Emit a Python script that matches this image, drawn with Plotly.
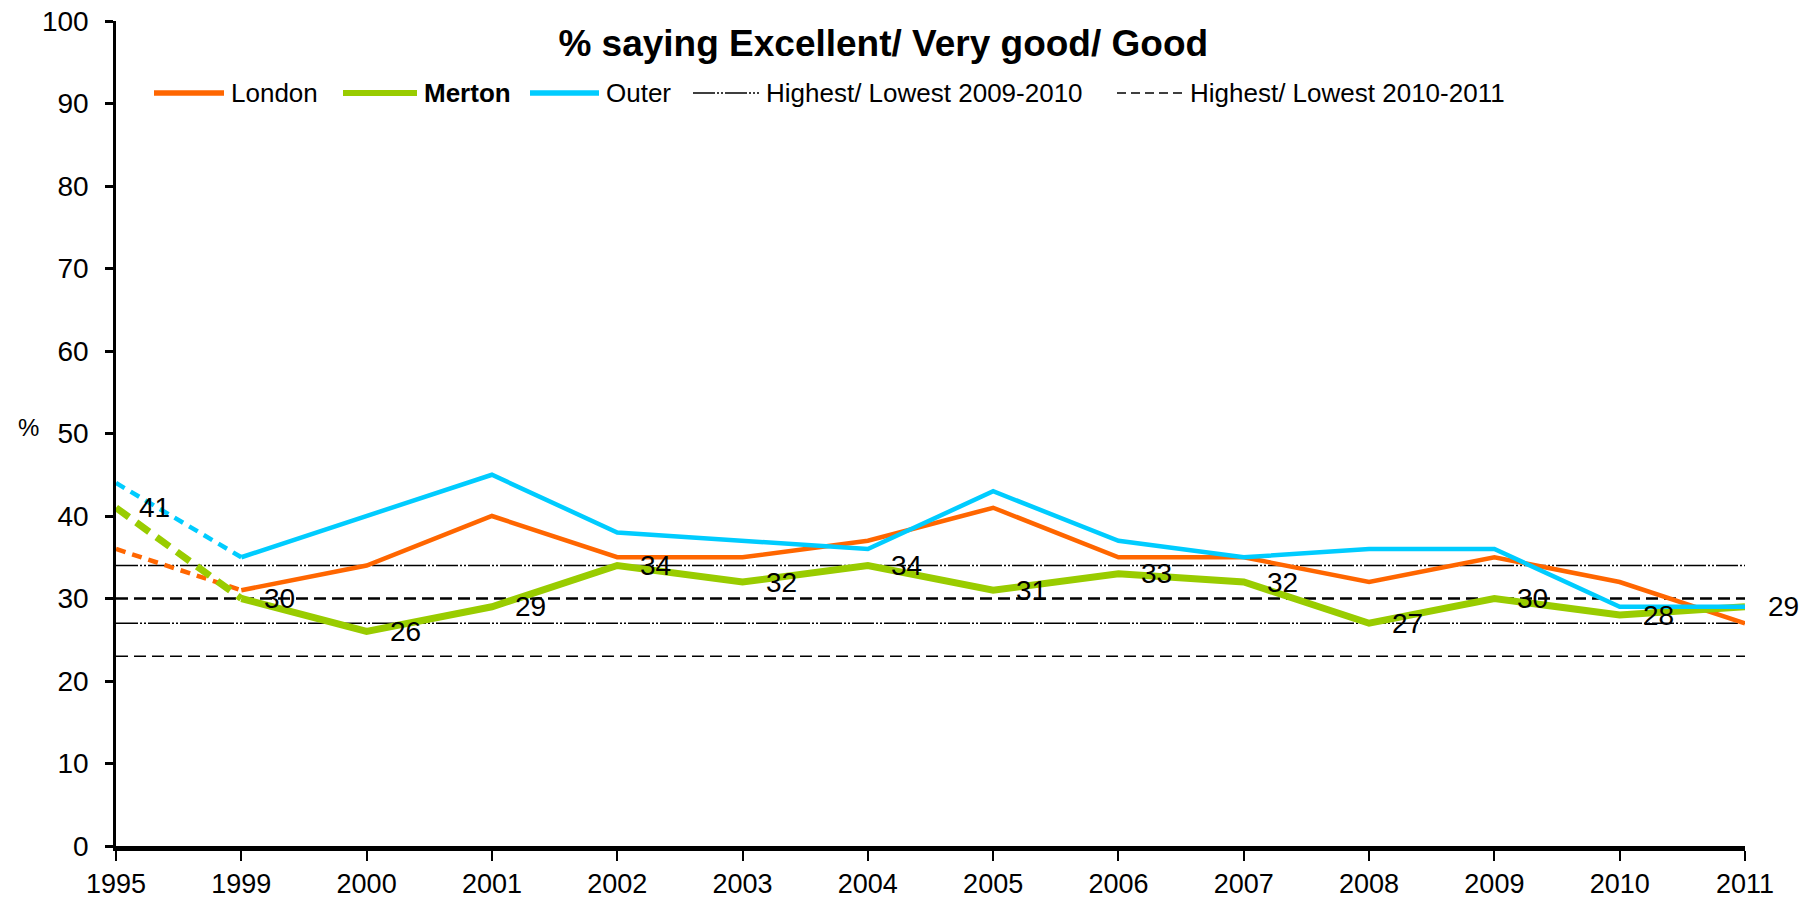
import plotly.graph_objects as go

years = ["1995", "1999", "2000", "2001", "2002", "2003", "2004", "2005",
         "2006", "2007", "2008", "2009", "2010", "2011"]
london = [36, 31, 34, 40, 35, 35, 37, 41, 35, 35, 32, 35, 32, 27]
merton = [41, 30, 26, 29, 34, 32, 34, 31, 33, 32, 27, 30, 28, 29]
outer = [44, 35, 40, 45, 38, 37, 36, 43, 37, 35, 36, 36, 29, 29]
hl_2009_2010 = [34, 27]
hl_2010_2011 = [30, 23]
legend_names = ["London", "<b>Merton</b>", "Outer",
                "Highest/ Lowest 2009-2010", "Highest/ Lowest 2010-2011"]

C_LON = "#FF6600"
C_MER = "#99CC00"
C_OUT = "#00CCFF"
FONT = "Liberation Sans, Arial, sans-serif"
DASHDOT = "22px,2px,2px,2px,2px,2px"
DASH = "12px,6px"

W, H = 1818, 904
ML, MR, MT, MB = 116, 73, 21, 58
PW, PH = W - ML - MR, H - MT - MB


def px_x(px):
    return (px - ML) / PW


def px_y(py):
    return (H - MB - py) / PH


fig = go.Figure()

# reference lines
for i, v in enumerate(hl_2009_2010):
    fig.add_trace(go.Scatter(x=[years[0], years[-1]], y=[v, v], mode="lines",
                             line=dict(color="black", width=1.6, dash=DASHDOT),
                             showlegend=False, hoverinfo="skip"))
for i, v in enumerate(hl_2010_2011):
    fig.add_trace(go.Scatter(x=[years[0], years[-1]], y=[v, v], mode="lines",
                             line=dict(color="black", width=2.6 if i == 0 else 1.6, dash=DASH),
                             showlegend=False, hoverinfo="skip"))

series = [("London", london, C_LON, 4.5), ("Merton", merton, C_MER, 7),
          ("Outer", outer, C_OUT, 4.5)]
for name, vals, col, w in series:
    fig.add_trace(go.Scatter(x=years[:2], y=vals[:2], mode="lines",
                             line=dict(color=col, width=w, dash="16px,9px" if w > 5 else "10px,7px"),
                             showlegend=False, hoverinfo="skip"))
    fig.add_trace(go.Scatter(x=years[1:], y=vals[1:], mode="lines",
                             line=dict(color=col, width=w), name=name, showlegend=False))

# Merton data labels
for i, v in enumerate(merton):
    fig.add_annotation(x=i, y=v, text=str(v), showarrow=False, xanchor="left",
                       yanchor="middle", xshift=21, yshift=0,
                       font=dict(family=FONT, size=28, color="black"))

# "%" axis label
fig.add_annotation(xref="paper", yref="paper", x=px_x(16), y=px_y(428), text="%",
                   showarrow=False, font=dict(family=FONT, size=24, color="black"))

# manual legend (line samples + labels)
leg_y = px_y(93)
leg_samples = [(154, 224, C_LON, 5.5, "solid"), (343, 417, C_MER, 6, "solid"),
               (530, 599, C_OUT, 5.5, "solid"), (693, 759, "black", 1.5, DASHDOT),
               (1117, 1183, "black", 1.6, "9px,5px")]
for (x0, x1, col, w, dash), name in zip(leg_samples, legend_names):
    fig.add_shape(type="line", xref="paper", yref="paper", x0=px_x(x0), x1=px_x(x1),
                  y0=leg_y, y1=leg_y, line=dict(color=col, width=w, dash=dash))
    fig.add_annotation(xref="paper", yref="paper", x=px_x(x1 + 5), y=leg_y, text=name,
                       showarrow=False, xanchor="left", yanchor="middle",
                       font=dict(family=FONT, size=26, color="black"))

fig.update_layout(
    width=W, height=H,
    margin=dict(l=ML, r=MR, t=MT, b=MB, autoexpand=False),
    paper_bgcolor="white", plot_bgcolor="white",
    font=dict(family=FONT, size=26, color="black"),
    title=dict(text="<b>% saying Excellent/ Very good/ Good</b>", x=0.471, xref="paper",
               xanchor="center", y=1 - 43 / H, yanchor="middle",
               font=dict(family=FONT, size=37, color="black")),
    showlegend=False,
)
fig.update_xaxes(type="category", categoryorder="array", categoryarray=years,
                 range=[0, len(years) - 1], showline=True, linecolor="black", linewidth=5,
                 ticks="outside", ticklen=10, tickwidth=2, tickcolor="black",
                 showgrid=False, zeroline=False, ticklabelstandoff=0, automargin=False,
                 tickfont=dict(family=FONT, size=27))
fig.update_yaxes(range=[0, 100], dtick=10, showline=True, linecolor="black", linewidth=2.5,
                 ticks="outside", ticklen=8, tickwidth=2.5, tickcolor="black",
                 showgrid=False, zeroline=False, ticklabelstandoff=11, automargin=False,
                 tickfont=dict(family=FONT, size=28))

fig.write_html("out.html", post_script="document.body.style.margin='0px';",
               config={"displayModeBar": False})
